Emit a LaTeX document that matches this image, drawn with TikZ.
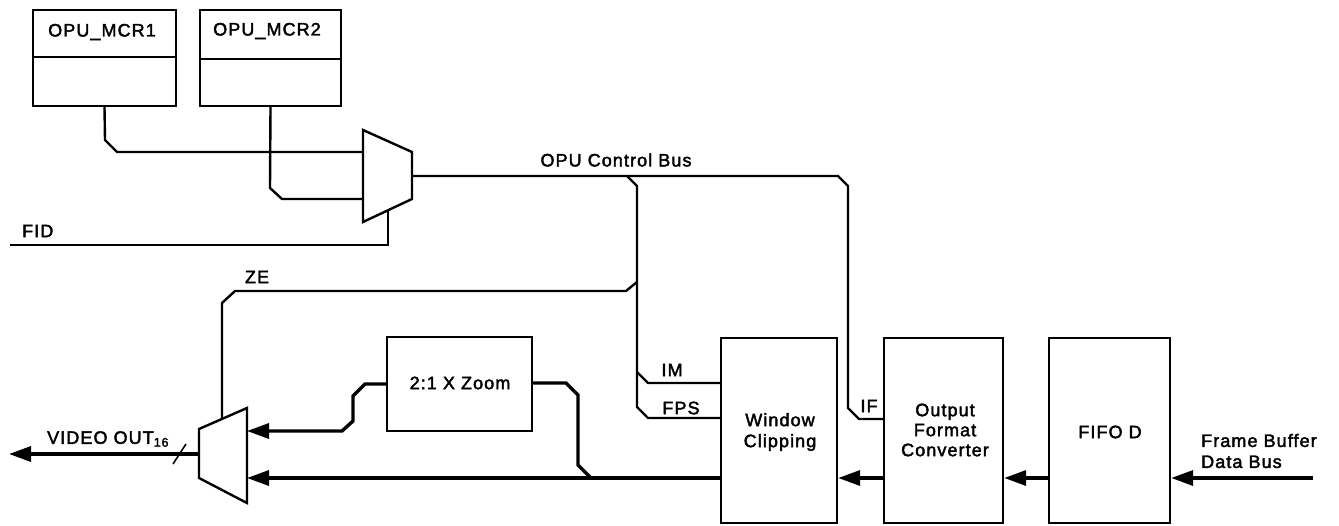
\documentclass[tikz,border=0pt]{standalone}
\usepackage{fontspec}
\setmainfont{Liberation Sans}[LetterSpace=6,FakeBold=2.2]
\usetikzlibrary{arrows.meta}
\tikzset{
  x=1pt,y=-1pt,
  txt/.style={inner sep=0pt,font=\fontsize{18}{21}\selectfont,align=center},
  box/.style={draw,line width=2.4pt,inner sep=0pt},
  ctl/.style={line width=2.4pt,line join=miter},
  dat/.style={line width=3.4pt,line join=miter},
  arr/.style={-{Triangle[length=22pt,width=15pt]}},
}
\begin{document}
\begin{tikzpicture}
\useasboundingbox (0,0) rectangle (1339,525);
% register boxes
\node[box,minimum width=143pt,minimum height=96pt] (mcr1) at (104.5,58) {};
\node[box,minimum width=141pt,minimum height=96pt] (mcr2) at (270.5,58) {};
\draw[line width=2.4pt] (mcr1.west |- 0,57) -- (mcr1.east |- 0,57);
\draw[line width=2.4pt] (mcr2.west |- 0,59) -- (mcr2.east |- 0,59);
\node[txt] (mcr1t) at (102,32) {OPU\_MCR1};
\node[txt] (mcr2t) at (267,31) {OPU\_MCR2};
% mux 1
\coordinate (m1a) at (363,130);
\coordinate (m1b) at (412,152);
\coordinate (m1c) at (412,199);
\coordinate (m1d) at (363,222);
\draw[line width=2.4pt,line join=miter] (m1a) -- (m1b) -- (m1c) -- (m1d) -- cycle;
\coordinate (m1in1) at (363,152);
\coordinate (m1in2) at (363,199);
\coordinate (m1out) at (412,176);
\coordinate (m1sel) at (388,210.5);
% mux 2
\coordinate (m2a) at (199,429);
\coordinate (m2b) at (247,408);
\coordinate (m2c) at (247,503);
\coordinate (m2d) at (199,478);
\draw[line width=2.4pt,line join=miter] (m2a) -- (m2b) -- (m2c) -- (m2d) -- cycle;
\coordinate (m2in1) at (247,431);
\coordinate (m2in2) at (247,478);
\coordinate (m2out) at (199,454);
\coordinate (m2sel) at (222,419);
% blocks
\node[box,minimum width=145pt,minimum height=94pt] (zoom) at (459.5,384) {};
\node[txt] at (460,383) {2:1 X Zoom};
\node[box,minimum width=116pt,minimum height=185pt] (wc) at (779,430.5) {};
\node[txt] at (780,432) {Window\\Clipping};
\node[box,minimum width=119pt,minimum height=185pt] (ofc) at (943.5,430.5) {};
\node[txt,font=\fontsize{18}{20}\selectfont] at (945,430) {Output\\Format\\Converter};
\node[box,minimum width=121pt,minimum height=185pt] (fifo) at (1109.5,430.5) {};
\node[txt] at (1110,432) {FIFO D};
\coordinate (fbin) at (1313,478);
\node[txt,align=left,anchor=west,font=\fontsize{18}{21}\selectfont] (fbt) at (1201,451) {Frame Buffer\\Data Bus};
\coordinate (vout) at (9,454);
\coordinate (fidin) at (10,245);
% register lines
\draw[ctl] (mcr1.south) -- (105,140) -- (117,152) -- (m1in1);
\draw[ctl] (mcr2.south) -- (270,188) -- (282,199) -- (m1in2);
\draw[ctl] (fidin) -- (388,245) -- (m1sel);
\node[txt,anchor=west] (fid) at (22,231) {FID};
% control bus
\draw[ctl] (m1out) -- (838,176) -- (848,186) -- (848,408) -- (859,419) -- (ofc.west |- 0,419);
\node[txt] (bus) at (616,160) {OPU Control Bus};
\node[txt] (if) at (869,406) {IF};
\draw[ctl] (627,176) -- (637,186) -- (637,407) -- (648,418) -- (wc.west |- 0,418);
\draw[ctl] (637,372) -- (648,383) -- (wc.west |- 0,383);
\node[txt] (im) at (672,370) {IM};
\node[txt] (fps) at (681,408) {FPS};
\draw[ctl] (637,282) -- (626,291) -- (235,291) -- (222,303) -- (m2sel);
\node[txt] (ze) at (257,277) {ZE};
% data path
\draw[dat,arr] (fbin) -- (fifo.east |- fbin);
\draw[dat,arr] (fifo.west |- 0,478) -- (ofc.east |- 0,478);
\draw[dat,arr] (ofc.west |- 0,478) -- (wc.east |- 0,478);
\draw[dat,arr] (wc.west |- 0,478) -- (m2in2);
\draw[dat] (zoom.east |- 0,383) -- (566,383) -- (578,395) -- (578,465) -- (591,478);
\draw[dat,arr] (zoom.west |- 0,384) -- (365,384) -- (353,396) -- (353,421) -- (342,431) -- (m2in1);
\draw[dat,arr] (m2out) -- (vout);
\draw[line width=1.6pt] (173,464) -- (186,444);
\node[txt,anchor=south west] (vo) at (47,447) {VIDEO OUT\textsubscript{16}};
\end{tikzpicture}
\end{document}
